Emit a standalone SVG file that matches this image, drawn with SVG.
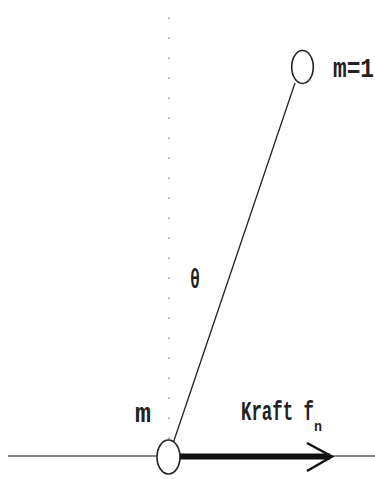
<svg xmlns="http://www.w3.org/2000/svg" width="375" height="479" viewBox="0 0 375 479">
<style>
.lbl{font-family:"Liberation Mono","Courier New",monospace;font-weight:bold;fill:#222;}
.node{fill:#fff;stroke:#222;stroke-width:1.6;}
</style>
<rect width="375" height="479" fill="#fff"/>
<g id="connectors">
<line x1="8" y1="456" x2="375" y2="456" stroke="#888" stroke-width="2.2"/>
<line x1="169" y1="17.5" x2="169" y2="440" stroke="#999" stroke-width="1.6" stroke-dasharray="1.5 18.5"/>
<line x1="173.5" y1="442" x2="295" y2="83" stroke="#222" stroke-width="1.3"/>
<line x1="180" y1="456.5" x2="330" y2="456.5" stroke="#111" stroke-width="6"/>
<polyline points="307,443 332,456.5 307,471" fill="none" stroke="#111" stroke-width="2.5"/>
</g>
<g id="mass-bottom">
<ellipse class="node" cx="168.5" cy="457" rx="11.5" ry="17"/>
<text class="lbl" x="135" y="422" font-size="27" textLength="16" lengthAdjust="spacingAndGlyphs">m</text>
</g>
<g id="mass-top">
<ellipse class="node" cx="302.5" cy="67" rx="10.8" ry="16.5"/>
<text class="lbl" x="333" y="77" font-size="27" textLength="41" lengthAdjust="spacingAndGlyphs">m=1</text>
</g>
<g id="angle">
<text class="lbl" x="190" y="288" font-size="27" textLength="10" lengthAdjust="spacingAndGlyphs">θ</text>
</g>
<g id="force">
<text class="lbl" x="241" y="420" font-size="27" textLength="73" lengthAdjust="spacingAndGlyphs">Kraft f</text>
<text class="lbl" x="314" y="431" font-size="14" textLength="8" lengthAdjust="spacingAndGlyphs">n</text>
</g>
</svg>
